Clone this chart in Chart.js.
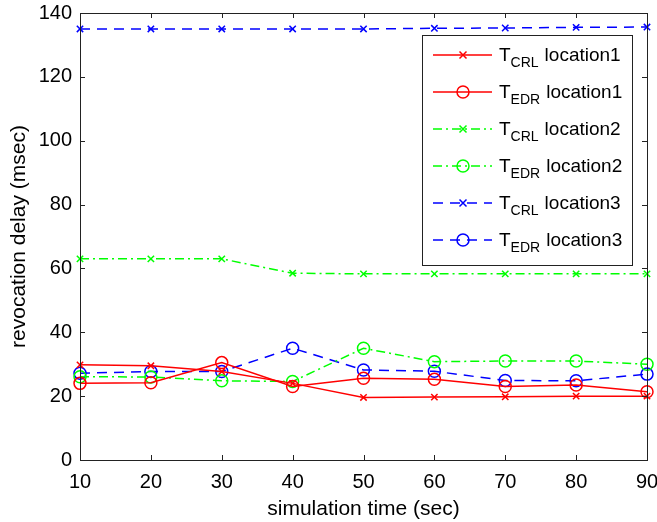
<!DOCTYPE html>
<html>
<head>
<meta charset="utf-8">
<script src="https://cdn.jsdelivr.net/npm/chart.js@4"></script>
<style>
  body { margin: 0; background: #fff; }
  #wrap { width: 657px; height: 522px; }
</style>
</head>
<body>
<div id="wrap"><canvas id="myChart"></canvas></div>
<script>
const times = [10, 20, 30, 40, 50, 60, 70, 80, 90];
const yTicks = [0, 20, 40, 60, 80, 100, 120, 140];

const crlLoc1 = [29.8, 29.5, 27.7, 24.0, 19.6, 19.7, 19.8, 20.0, 20.0];
const edrLoc1 = [24.0, 24.2, 30.5, 23.0, 25.6, 25.3, 23.0, 23.5, 21.4];
const crlLoc2 = [63.0, 63.0, 63.0, 58.5, 58.3, 58.3, 58.3, 58.3, 58.3];
const edrLoc2 = [26.1, 26.0, 24.8, 24.6, 35.0, 30.8, 31.0, 31.0, 30.0];
const crlLoc3 = [135.0, 135.0, 135.0, 135.0, 135.0, 135.2, 135.3, 135.5, 135.6];
const edrLoc3 = [27.2, 27.7, 27.7, 35.0, 28.2, 27.8, 24.9, 24.8, 26.9];

const legendNames = [
	["CRL", "location1"],
	["EDR", "location1"],
	["CRL", "location2"],
	["EDR", "location2"],
	["CRL", "location3"],
	["EDR", "location3"],
];

const FONT = "'Liberation Sans', Arial, sans-serif";
const red = "rgb(255, 0, 0)";
const green = "rgb(0, 255, 0)";
const blue = "rgb(0, 0, 255)";
const dashDot = [9, 4, 2, 4];
const dashed = [10, 7];

function series(values, color, dash, marker) {
	return {
		data: values,
		borderColor: color,
		backgroundColor: "rgba(0,0,0,0)",
		borderWidth: 1.5,
		borderDash: dash,
		tension: 0,
		pointStyle: marker,
		pointRadius: marker === "circle" ? 6 : 4.5,
		pointBorderColor: color,
		pointBackgroundColor: "rgba(0,0,0,0)",
		pointBorderWidth: 1.5,
	};
}

const data = {
	labels: times,
	datasets: [
		series(crlLoc1, red, [], "crossRot"),
		series(edrLoc1, red, [], "circle"),
		series(crlLoc2, green, dashDot, "crossRot"),
		series(edrLoc2, green, dashDot, "circle"),
		series(crlLoc3, blue, dashed, "crossRot"),
		series(edrLoc3, blue, dashed, "circle"),
	],
};

// box round the axes, inward ticks on all four sides, and the legend
const matlabBox = {
	id: "matlabBox",
	afterDraw(chart) {
		const ctx = chart.ctx;
		const a = chart.chartArea;
		const xs = chart.scales.x;
		const ys = chart.scales.y;
		ctx.save();
		ctx.strokeStyle = "#222";
		ctx.lineWidth = 1;
		ctx.setLineDash([]);
		ctx.strokeRect(a.left + 0.5, a.top + 0.5, a.right - a.left, a.bottom - a.top);
		ctx.beginPath();
		times.forEach((t, i) => {
			const px = Math.round(xs.getPixelForValue(i)) + 0.5;
			ctx.moveTo(px, a.bottom); ctx.lineTo(px, a.bottom - 5);
			ctx.moveTo(px, a.top); ctx.lineTo(px, a.top + 5);
		});
		yTicks.forEach(v => {
			const py = Math.round(ys.getPixelForValue(v)) + 0.5;
			ctx.moveTo(a.left, py); ctx.lineTo(a.left + 5, py);
			ctx.moveTo(a.right, py); ctx.lineTo(a.right - 5, py);
		});
		ctx.stroke();

		// legend
		const bx = a.right - 225, by = a.top + 22, bw = 210, bh = 230;
		ctx.fillStyle = "#fff";
		ctx.fillRect(bx, by, bw, bh);
		ctx.strokeStyle = "#222";
		ctx.strokeRect(bx + 0.5, by + 0.5, bw, bh);
		chart.data.datasets.forEach((ds, i) => {
			const ry = by + 20 + i * 37;
			ctx.strokeStyle = ds.borderColor;
			ctx.lineWidth = 1.5;
			ctx.setLineDash(ds.borderDash);
			ctx.beginPath();
			ctx.moveTo(bx + 11, ry);
			ctx.lineTo(bx + 70, ry);
			ctx.stroke();
			ctx.setLineDash([]);
			const mx = bx + 41;
			ctx.beginPath();
			if (ds.pointStyle === "circle") {
				ctx.arc(mx, ry, 6, 0, Math.PI * 2);
			} else {
				ctx.moveTo(mx - 3.5, ry - 3.5); ctx.lineTo(mx + 3.5, ry + 3.5);
				ctx.moveTo(mx + 3.5, ry - 3.5); ctx.lineTo(mx - 3.5, ry + 3.5);
			}
			ctx.stroke();

			ctx.fillStyle = "#000";
			ctx.textBaseline = "alphabetic";
			ctx.textAlign = "left";
			let tx = bx + 77;
			const base = ry + 6;
			ctx.font = "19px " + FONT;
			ctx.fillText("T", tx, base);
			tx += ctx.measureText("T").width;
			ctx.font = "14px " + FONT;
			ctx.fillText(legendNames[i][0], tx, base + 6);
			tx += ctx.measureText(legendNames[i][0]).width + 6;
			ctx.font = "19px " + FONT;
			ctx.fillText(legendNames[i][1], tx, base);
		});
		ctx.restore();
	},
};

const config = {
	type: "line",
	data: data,
	options: {
		responsive: true,
		maintainAspectRatio: false,
		animation: false,
		layout: {
			padding: { left: 0, right: 10, top: 13, bottom: 0 },
		},
		plugins: {
			legend: { display: false },
			tooltip: { enabled: false },
		},
		scales: {
			x: {
				type: "category",
				offset: false,
				grid: { display: false, drawTicks: false },
				border: { display: false },
				ticks: {
					color: "#000",
					padding: 10,
					maxRotation: 0,
					autoSkip: false,
					font: { family: FONT, size: 20 },
				},
				title: {
					display: true,
					text: "simulation time (sec)",
					color: "#000",
					font: { family: FONT, size: 21 },
					padding: { top: 0, bottom: 0 },
				},
				afterFit(scale) {
					scale.height = 62;
					scale.paddingLeft = 0;
					scale.paddingRight = 0;
				},
			},
			y: {
				min: 0,
				max: 140,
				grid: { display: false, drawTicks: false },
				border: { display: false },
				ticks: {
					stepSize: 20,
					color: "#000",
					padding: 8,
					font: { family: FONT, size: 20 },
				},
				title: {
					display: true,
					text: "revocation delay (msec)",
					color: "#000",
					font: { family: FONT, size: 21 },
					padding: { top: 7, bottom: 0 },
				},
				afterFit(scale) {
					scale.width = 80;
					scale.paddingTop = 0;
					scale.paddingBottom = 0;
				},
			},
		},
	},
	plugins: [matlabBox],
};

new Chart(document.getElementById("myChart"), config);
</script>
</body>
</html>
